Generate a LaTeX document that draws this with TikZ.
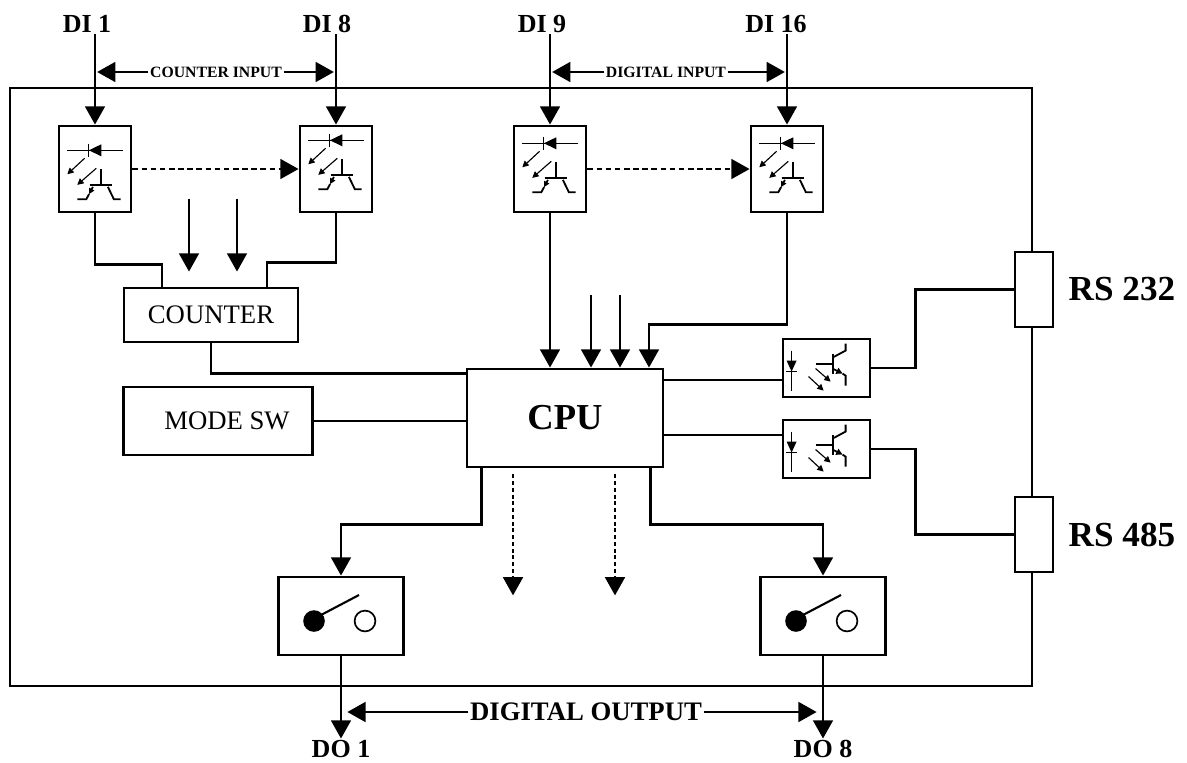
\documentclass[tikz,border=0pt]{standalone}
\usepackage{fontspec}
\setmainfont{Liberation Serif}
\usepackage{tikz}
\usetikzlibrary{arrows.meta}
\usetikzlibrary{calc}
\usetikzlibrary{positioning}

\newcommand{\optoin}[2][0]{%
	\begin{scope}[shift={($(#2.north west)+(0,#1)$)}]
		\draw [line width=0.7pt] (9.7,18.7) -- (65,18.7) (31.3,12) -- (31.3,25.4);
		\fill (31.3,18.7) -- (43.7,12.7) -- (43.7,24.7) -- cycle;
		\draw [lite] (27,26.7) -- (9.7,42.7);
		\draw [lite] (38.7,36.7) -- (19.7,53.3);
		\draw [line width=1.3pt] (43.7,37.7) -- (43.7,53.3) (32,53.3) -- (54.3,53.3);
		\draw [line width=1.3pt,-{Triangle[length=4pt,width=4pt]}] (35.3,55.3) -- (31.5,62.5);
		\draw [line width=1.3pt] (31.5,62.5) -- (28.7,67.7) -- (19.7,67.7);
		\draw [line width=1.3pt] (50.3,55.3) -- (56.3,67.7) -- (63,67.7);
	\end{scope}}
\newcommand{\optoout}[1]{%
	\begin{scope}[shift={(#1.north west)}]
		\draw [line width=1pt] (10,13) -- (10,53) (4.5,34) -- (15.5,34);
		\fill (5,23) -- (15,23) -- (10,34) -- cycle;
		\draw [lite] (27,39) -- (42,53);
		\draw [lite] (34,31) -- (49,44);
		\draw [line width=1.3pt] (34,26) -- (51,26) (51,16) -- (51,36);
		\draw [line width=1.3pt] (51,20) -- (64,13) -- (64,6);
		\draw [line width=1.3pt,-{Triangle[length=4.5pt,width=4.5pt]}] (51,31) -- (61,36);
		\draw [line width=1.3pt] (61,36) -- (64,38) -- (64,48);
	\end{scope}}
\newcommand{\relaysym}[1]{%
	\begin{scope}[shift={(#1.center)}]
		\fill (-27,5) circle [radius=0.27cm];
		\draw [line width=1.2pt] (24,5) circle [radius=0.26cm];
		\draw [line width=1.5pt] (-20,-1) -- (18,-21);
	\end{scope}}

\begin{document}
\begin{tikzpicture}[x=0.025cm,y=-0.025cm,
		wire/.style={line width=2pt},
		arr/.style={wire,-{Triangle[length=13pt,width=14pt]}},
		box/.style={draw,line width=2pt,fill=white,inner sep=0pt},
		optobox/.style={box,minimum width=1.8cm,minimum height=2.15cm},
		txbox/.style={box,minimum width=2.175cm,minimum height=1.45cm},
		relaybox/.style={box,minimum width=3.125cm,minimum height=1.95cm},
		rsbox/.style={box,minimum width=0.95cm,minimum height=1.875cm},
		lite/.style={line width=0.8pt,-{Triangle[length=4.5pt,width=4.5pt]}},
		lbl/.style={font=\fontsize{18.5}{20}\selectfont\bfseries,inner sep=1pt},
		rng/.style={font=\fontsize{11.2}{13}\selectfont\bfseries,inner sep=1pt},
		rslbl/.style={font=\fontsize{25}{28}\selectfont\bfseries,inner sep=0pt}]
	\useasboundingbox (0,0) rectangle (1187,762);
	\draw [wire] (10,88) rectangle (1032,686);

	\node [optobox] (in1) at (95,169) {};
	\node [optobox] (in2) at (336,169) {};
	\node [optobox] (in3) at (550,169) {};
	\node [optobox] (in4) at (787,169) {};
	\optoin[7]{in1} \optoin[-3]{in2} \optoin{in3} \optoin{in4}

	\node [lbl] (di1) at (87,24) {DI 1};
	\node [lbl] (di8) at (327,24) {DI 8};
	\node [lbl] (di9) at (542,24) {DI 9};
	\node [lbl] (di16) at (776,24) {DI 16};
	\draw [arr] (in1.north |- di1.south) -- (in1.north);
	\draw [arr] (in2.north |- di8.south) -- (in2.north);
	\draw [arr] (in3.north |- di9.south) -- (in3.north);
	\draw [arr] (in4.north |- di16.south) -- (in4.north);

	\node [rng] (cin) at (216,72) {COUNTER INPUT};
	\draw [arr,shorten >=1.5pt] (cin.west) -- (cin.west -| in1.north);
	\draw [arr,shorten >=1.5pt] (cin.east) -- (cin.east -| in2.north);
	\node [rng] (din) at (666,72) {DIGITAL INPUT};
	\draw [arr,shorten >=1.5pt] (din.west) -- (din.west -| in3.north);
	\draw [arr,shorten >=1.5pt] (din.east) -- (din.east -| in4.north);

	\draw [arr,dash pattern=on 4pt off 2.5pt] (in1.east) -- (in2.west);
	\draw [arr,dash pattern=on 4pt off 2.5pt] (in3.east) -- (in4.west);

	\node [box,minimum width=4.35cm,minimum height=1.35cm,font=\fontsize{19}{22}\selectfont] (cnt) at (211,315) {COUNTER};
	\node [box,minimum width=4.725cm,minimum height=1.7cm,font=\fontsize{19}{22}\selectfont] (mode) at (218,421) {\hspace*{0.45cm}MODE SW};
	\node [box,minimum width=4.9cm,minimum height=2.45cm,font=\fontsize{26}{29}\selectfont\bfseries] (cpu) at (565,418) {CPU};

	\draw [wire] (in1.south) -- ++(0,51) -| ($(cnt.north)+(-49,0)$);
	\draw [wire] (in2.south) -- ++(0,49) -| ($(cnt.north)+(56,0)$);
	\draw [arr] ($(cnt.north)+(-22,-88)$) -- ($(cnt.north)+(-22,-15)$);
	\draw [arr] ($(cnt.north)+(26,-88)$) -- ($(cnt.north)+(26,-15)$);
	\draw [wire] (cnt.south) |- ($(cpu.north west)+(0,6)$);
	\draw [wire] (mode.east) -- (mode.east -| cpu.west);

	\draw [arr] (in3.south) -- (in3.south |- cpu.north);
	\draw [arr] ($(cpu.north)+(26,-73)$) -- ($(cpu.north)+(26,0)$);
	\draw [arr] ($(cpu.north)+(55,-73)$) -- ($(cpu.north)+(55,0)$);
	\draw [arr] (in4.south) -- ++(0,111) -| ($(cpu.north)+(84,0)$);

	\node [txbox] (txa) at (826.5,368) {};
	\node [txbox] (txb) at (826.5,449) {};
	\optoout{txa} \optoout{txb}
	\coordinate (txain) at ($(txa.west)+(0,12)$);
	\coordinate (txbin) at ($(txb.west)+(0,-14)$);
	\draw [wire] (cpu.east |- txain) -- (txain);
	\draw [wire] (cpu.east |- txbin) -- (txbin);

	\node [rsbox] (rs232) at (1034,289.5) {};
	\node [rsbox] (rs485) at (1034,534.5) {};
	\node [rslbl,right=0.35cm of rs232] (rs232lbl) {RS 232};
	\node [rslbl,right=0.35cm of rs485] (rs485lbl) {RS 485};
	\draw [wire] (txa.east) -- ++(44,0) |- (rs232.west);
	\draw [wire] (txb.east) -- ++(44,0) |- (rs485.west);

	\node [relaybox] (rel1) at (341,616) {};
	\node [relaybox] (rel2) at (823,616) {};
	\relaysym{rel1} \relaysym{rel2}
	\draw [arr] ($(cpu.south west)+(16,0)$) -- ++(0,56) -| (rel1.north);
	\draw [arr] ($(cpu.south east)+(-14,0)$) -- ++(0,56) -| (rel2.north);
	\draw [arr,dash pattern=on 2.8pt off 2pt] ($(cpu.south)+(-52,6)$) -- ++(0,121);
	\draw [arr,dash pattern=on 2.8pt off 2pt] ($(cpu.south)+(50,6)$) -- ++(0,121);

	\node [lbl] (do1) at (341,749) {DO 1};
	\node [lbl] (do8) at (823,749) {DO 8};
	\draw [arr] (rel1.south) -- (rel1.south |- do1.north);
	\draw [arr] (rel2.south) -- (rel2.south |- do8.north);
	\node [font=\fontsize{19}{22}\selectfont\bfseries,inner sep=1pt] (dout) at (586,712) {DIGITAL OUTPUT};
	\draw [arr,shorten >=4.5pt] (dout.west) -- (dout.west -| rel1.south);
	\draw [arr,shorten >=4.5pt] (dout.east) -- (dout.east -| rel2.south);
\end{tikzpicture}
\end{document}
